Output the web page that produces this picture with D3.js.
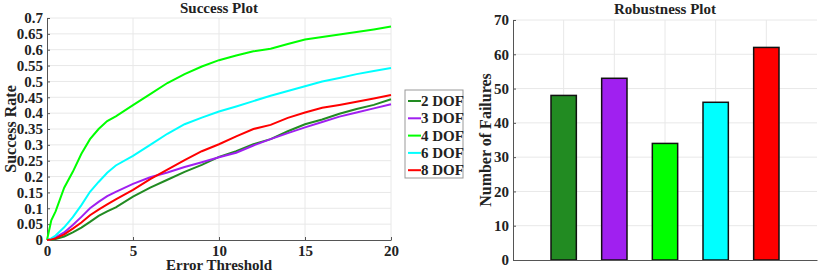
<!DOCTYPE html>
<html>
<head>
<meta charset="utf-8">
<script src="https://cdn.jsdelivr.net/npm/d3@7"></script>
<style>
  body { margin: 0; background: #fff; }
</style>
</head>
<body>
<div id="chart"></div>
<script>
// success curves (error threshold vs success rate)
const thresholds = [0, 0.25, 0.5, 1, 1.5, 2, 2.5, 3, 3.5, 4, 5, 6, 7, 8, 9, 10, 11, 12, 13, 14, 15, 16, 17, 18, 19, 20];
const dof2 = [0, 0.001, 0.003, 0.011, 0.024, 0.039, 0.057, 0.076, 0.09, 0.103, 0.137, 0.165, 0.19, 0.215, 0.237, 0.262, 0.28, 0.302, 0.318, 0.343, 0.365, 0.38, 0.398, 0.413, 0.426, 0.444];
const dof3 = [0, 0.003, 0.008, 0.024, 0.047, 0.073, 0.1, 0.12, 0.138, 0.152, 0.177, 0.198, 0.213, 0.23, 0.245, 0.261, 0.275, 0.298, 0.318, 0.337, 0.355, 0.372, 0.389, 0.402, 0.415, 0.428];
const dof4 = [0, 0.062, 0.09, 0.165, 0.215, 0.272, 0.318, 0.35, 0.375, 0.39, 0.425, 0.46, 0.495, 0.523, 0.547, 0.567, 0.582, 0.595, 0.603, 0.618, 0.632, 0.64, 0.648, 0.656, 0.664, 0.673];
const dof6 = [0, 0.005, 0.014, 0.04, 0.072, 0.11, 0.152, 0.183, 0.212, 0.235, 0.265, 0.3, 0.335, 0.365, 0.386, 0.405, 0.421, 0.438, 0.455, 0.47, 0.485, 0.5, 0.511, 0.523, 0.533, 0.542];
const dof8 = [0, 0.002, 0.005, 0.018, 0.036, 0.055, 0.078, 0.096, 0.112, 0.128, 0.158, 0.192, 0.222, 0.252, 0.28, 0.302, 0.327, 0.35, 0.363, 0.385, 0.402, 0.417, 0.426, 0.436, 0.446, 0.457];

const seriesNames = ["2 DOF", "3 DOF", "4 DOF", "6 DOF", "8 DOF"];
const seriesColors = ["#228B22", "#A020F0", "#00FF00", "#00FFFF", "#FF0000"];

// robustness bars
const failures = [48, 53, 34, 46, 62];

const xTicks = [0, 5, 10, 15, 20];
const yTicks = d3.range(0, 0.701, 0.05);
const barTicks = [0, 10, 20, 30, 40, 50, 60, 70];

const FONT = "'Liberation Serif', 'Times New Roman', serif";

const svg = d3.select("#chart").append("svg")
  .attr("width", 830).attr("height", 272)
  .attr("font-family", FONT);

const gridColor = "#e8e8e8";
const axisColor = "#555";

function styleAxis(a) {
  a.attr("font-family", FONT);
  a.select(".domain").attr("stroke", axisColor);
  a.selectAll(".tick line").attr("stroke", axisColor);
  a.selectAll("text").style("font-size", "15px");
}

// ---------- Success Plot ----------
const x = d3.scaleLinear().domain([0, 20]).range([47, 391]);
const y = d3.scaleLinear().domain([0, 0.7]).range([240, 18]);

const left = svg.append("g");

left.append("g").selectAll("line").data(xTicks.slice(1)).join("line")
  .attr("x1", d => x(d)).attr("x2", d => x(d))
  .attr("y1", y(0)).attr("y2", y(0.7))
  .attr("stroke", gridColor);
left.append("g").selectAll("line").data(yTicks.slice(1)).join("line")
  .attr("x1", x(0)).attr("x2", x(20))
  .attr("y1", d => y(d)).attr("y2", d => y(d))
  .attr("stroke", gridColor);

const xAxis = left.append("g").attr("transform", `translate(0,${y(0)})`)
  .call(d3.axisBottom(x).tickValues(xTicks).tickSizeInner(-3).tickSizeOuter(0).tickPadding(5));
const yAxis = left.append("g").attr("transform", `translate(${x(0)},0)`)
  .call(d3.axisLeft(y).tickValues(yTicks).tickFormat(d => +d.toFixed(2)).tickSizeInner(-3).tickSizeOuter(0).tickPadding(4));
styleAxis(xAxis);
styleAxis(yAxis);

const series = [dof2, dof3, dof4, dof6, dof8];
const line = d3.line().x((d, i) => x(thresholds[i])).y(d => y(d));
left.append("g").selectAll("path").data(series).join("path")
  .attr("d", line)
  .attr("fill", "none")
  .attr("stroke", (d, i) => seriesColors[i])
  .attr("stroke-width", 2);

left.append("text").attr("x", (x(0) + x(20)) / 2).attr("y", 13)
  .attr("text-anchor", "middle").style("font-size", "15px").text("Success Plot");
left.append("text").attr("x", (x(0) + x(20)) / 2).attr("y", 270)
  .attr("text-anchor", "middle").style("font-size", "15px").text("Error Threshold");
left.append("text").attr("transform", `translate(16,${y(0.35)}) rotate(-90)`)
  .attr("text-anchor", "middle").style("font-size", "16px").text("Success Rate");

// legend
const legend = svg.append("g").attr("transform", "translate(405,90)");
legend.append("rect").attr("width", 58).attr("height", 88)
  .attr("fill", "#fff").attr("stroke", "#999");
const li = legend.selectAll("g").data(seriesNames).join("g")
  .attr("transform", (d, i) => `translate(0,${11 + i * 17.3})`);
li.append("line").attr("x1", 3).attr("x2", 16)
  .attr("stroke", (d, i) => seriesColors[i]).attr("stroke-width", 2);
li.append("text").attr("x", 16).attr("y", 5).style("font-size", "15px").text(d => d);

// ---------- Robustness Plot ----------
const bx = d3.scaleLinear().domain([0, 6]).range([513, 817]);
const by = d3.scaleLinear().domain([0, 70]).range([260, 20]);
const right = svg.append("g");

right.append("g").selectAll("line").data(d3.range(1, 6)).join("line")
  .attr("x1", d => bx(d)).attr("x2", d => bx(d))
  .attr("y1", by(0)).attr("y2", by(70))
  .attr("stroke", gridColor);
right.append("g").selectAll("line").data(barTicks.slice(1)).join("line")
  .attr("x1", bx(0)).attr("x2", bx(6))
  .attr("y1", d => by(d)).attr("y2", d => by(d))
  .attr("stroke", gridColor);

right.selectAll("rect.bar").data(failures).join("rect")
  .attr("class", "bar")
  .attr("x", (d, i) => bx(i + 1 - 0.25))
  .attr("width", bx(0.5) - bx(0))
  .attr("y", d => by(d))
  .attr("height", d => by(0) - by(d))
  .attr("fill", (d, i) => seriesColors[i])
  .attr("stroke", "#111").attr("stroke-width", 1.5);

const bxAxis = right.append("g").attr("transform", `translate(0,${by(0)})`)
  .call(d3.axisBottom(bx).tickValues([]).tickSizeOuter(0));
const byAxis = right.append("g").attr("transform", `translate(${bx(0)},0)`)
  .call(d3.axisLeft(by).tickValues(barTicks).tickSizeInner(-3).tickSizeOuter(0).tickPadding(4));
styleAxis(bxAxis);
styleAxis(byAxis);

right.append("text").attr("x", (bx(0) + bx(6)) / 2).attr("y", 14)
  .attr("text-anchor", "middle").style("font-size", "15px").text("Robustness Plot");
right.append("text").attr("transform", `translate(491,${by(35)}) rotate(-90)`)
  .attr("text-anchor", "middle").style("font-size", "16px").text("Number of Failures");

svg.selectAll("text").style("font-family", FONT).style("font-weight", "bold").style("fill", "#222");
</script>
</body>
</html>
